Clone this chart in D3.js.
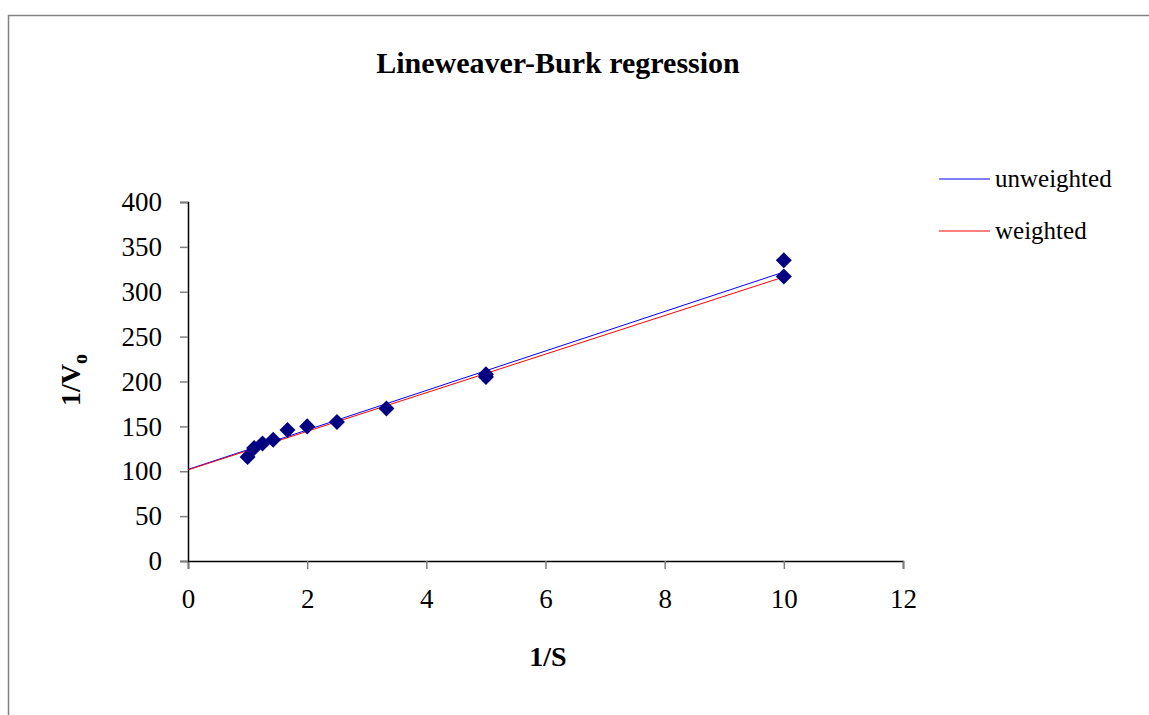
<!DOCTYPE html>
<html>
<head>
<meta charset="utf-8">
<script src="https://cdn.jsdelivr.net/npm/d3@7"></script>
<style>
  body { margin: 0; background: #fff; }
  text { font-family: "Liberation Serif", "DejaVu Serif", serif; }
</style>
</head>
<body>
<div id="chart"></div>
<script>
// measured points (1/S, 1/Vo)
const invS  = [1, 1.11, 1.25, 1.43, 1.67, 2, 2.5, 3.33, 5, 5, 10, 10];
const invV  = [116, 126, 131, 135, 146, 150, 155, 170, 208, 205, 335, 317];

// regression lines, endpoints at 1/S = 0 and 10
const lineX = [0, 10];
const unweightedY = [102, 322];
const weightedY = [101.5, 316.5];

const xTicks = [0, 2, 4, 6, 8, 10, 12];
const yTicks = [0, 50, 100, 150, 200, 250, 300, 350, 400];

const W = 1149, H = 715;
const margin = {left: 188, right: 246, top: 202, bottom: 154};

const svg = d3.select("#chart").append("svg")
    .attr("width", W)
    .attr("height", H);

// outer frame (only top and left visible)
svg.append("path")
    .attr("d", "M8.5,715 V15.5 H1149")
    .attr("fill", "none")
    .attr("stroke", "#808080")
    .attr("stroke-width", 1.5);

const x = d3.scaleLinear().domain([0, 12]).range([margin.left, W - margin.right]);
const y = d3.scaleLinear().domain([0, 400]).range([H - margin.bottom, margin.top]);

const xAxis = d3.axisBottom(x).tickValues(xTicks).tickSize(8).tickPadding(20);
const yAxis = d3.axisLeft(y).tickValues(yTicks).tickSize(8).tickPadding(18);

const gx = svg.append("g")
    .attr("class", "x axis")
    .attr("transform", `translate(0, ${y(0)})`)
    .call(xAxis);

const gy = svg.append("g")
    .attr("class", "y axis")
    .attr("transform", `translate(${x(0)}, 0)`)
    .call(yAxis);

[gx, gy].forEach(g => {
    g.select(".domain").attr("stroke", "#000").attr("stroke-width", 1.5);
    g.selectAll(".tick line").attr("stroke", "#808080").attr("stroke-width", 1.5);
    g.selectAll(".tick text")
        .attr("fill", "#000")
        .style("font-size", "27px")
        .style("font-family", "'Liberation Serif', serif");
});

// regression lines
const line = d3.line()
    .x((d, i) => x(lineX[i]))
    .y(d => y(d));

svg.append("path")
    .datum(unweightedY)
    .attr("d", line)
    .attr("fill", "none")
    .attr("stroke", "#0000ff")
    .attr("stroke-width", 1);

svg.append("path")
    .datum(weightedY)
    .attr("d", line)
    .attr("fill", "none")
    .attr("stroke", "#ff0000")
    .attr("stroke-width", 1);

// data markers
const diamond = d3.symbol().type(d3.symbolSquare).size(128);
svg.selectAll(".pt")
    .data(invS)
    .enter().append("path")
    .attr("class", "pt")
    .attr("d", diamond)
    .attr("transform", (d, i) => `translate(${x(d)}, ${y(invV[i])}) rotate(45)`)
    .attr("fill", "#000080");

// title
svg.append("text")
    .attr("x", 558)
    .attr("y", 73)
    .attr("text-anchor", "middle")
    .style("font-size", "30px")
    .style("font-weight", "bold")
    .text("Lineweaver-Burk regression");

// axis titles
svg.append("text")
    .attr("x", 548)
    .attr("y", 666)
    .attr("text-anchor", "middle")
    .style("font-size", "28px")
    .style("font-weight", "bold")
    .text("1/S");

const yl = svg.append("text")
    .attr("transform", "translate(80, 380) rotate(-90)")
    .attr("text-anchor", "middle")
    .style("font-size", "28px")
    .style("font-weight", "bold");
yl.append("tspan").text("1/V");
yl.append("tspan").attr("dy", 7).style("font-size", "20px").text("o");

// legend
const legend = [
    {name: "unweighted", color: "#0000ff", y: 179},
    {name: "weighted", color: "#ff0000", y: 231}
];
const lg = svg.selectAll(".legend")
    .data(legend)
    .enter().append("g")
    .attr("class", "legend");
lg.append("line")
    .attr("x1", 939).attr("x2", 990)
    .attr("y1", d => d.y).attr("y2", d => d.y)
    .attr("stroke", d => d.color)
    .attr("stroke-width", 1);
lg.append("text")
    .attr("x", 995)
    .attr("y", d => d.y + 8)
    .style("font-size", "25px")
    .text(d => d.name);
</script>
</body>
</html>
